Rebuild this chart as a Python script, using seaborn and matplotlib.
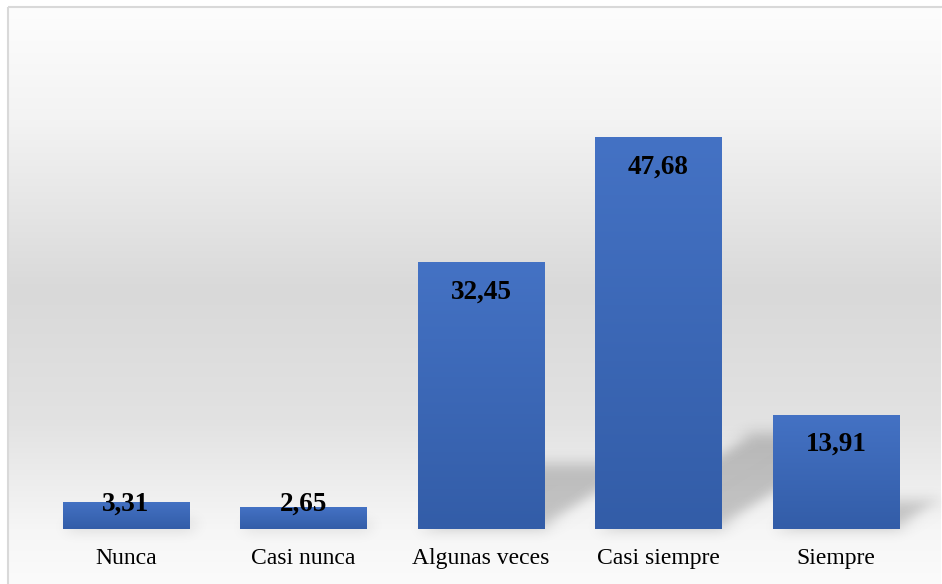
import numpy as np
import pandas as pd
import matplotlib
matplotlib.use("Agg")
import matplotlib.pyplot as plt
from matplotlib.patches import Polygon
import seaborn as sns

# Survey response distribution (%)
categories = ["Nunca", "Casi nunca", "Algunas veces", "Casi siempre", "Siempre"]
values = [3.31, 2.65, 32.45, 47.68, 13.91]
value_labels = ["3,31", "2,65", "32,45", "47,68", "13,91"]

W, H, DPI = 942, 584, 100
sns.set_theme(style="white")
plt.rcParams["font.family"] = ["Liberation Serif", "DejaVu Serif"]

fig = plt.figure(figsize=(W / DPI, H / DPI), dpi=DPI, facecolor="white")

# ---- background panel: vertical grey gradient inside a light frame ----
frame_l, frame_t = 8, 7
bg = fig.add_axes([0, 0, 1, 1], zorder=0)
bg.set_xlim(0, W)
bg.set_ylim(H, 0)
bg.axis("off")
rows = np.arange(frame_t, H)
stops_y = [frame_t, 120, 290, 420, 529, H]
stops_v = [253, 243, 217, 226, 246, 251]
col = np.interp(rows, stops_y, stops_v) / 255.0
grad = np.repeat(col[:, None], 2, axis=1)
bg.imshow(np.dstack([grad, grad, grad]), extent=[frame_l, W - 1, H, frame_t],
          aspect="auto", interpolation="bilinear")
bg.plot([frame_l, W], [frame_t, frame_t], color="#d9d9d9", lw=1.5, solid_capstyle="butt")
bg.plot([frame_l, frame_l], [frame_t, H], color="#d9d9d9", lw=1.5, solid_capstyle="butt")

# ---- main chart axes ----
base_px = 529
step_px = 177.5
first_px = 126
top_px = frame_t
ax = fig.add_axes([frame_l / W, (H - base_px) / H, (W - 1 - frame_l) / W,
                   (base_px - top_px) / H], zorder=1)
ax.patch.set_alpha(0)

df = pd.DataFrame({"cat": categories, "val": values})
sns.barplot(data=df, x="cat", y="val", ax=ax, color="#4472C4",
            saturation=1, width=0.71, linewidth=0, zorder=3)

ax.set_xlim((frame_l - first_px) / step_px, (W - 1 - first_px) / step_px)
ymax = 63.5
ax.set_ylim(0, ymax)
px_per_y = (base_px - top_px) / ymax
px_per_x = step_px

for s in ax.spines.values():
    s.set_visible(False)
ax.set_yticks([])
ax.set_xlabel("")
ax.set_ylabel("")
ax.tick_params(axis="x", length=0, pad=14, labelsize=17, labelcolor="#000000")
for t in ax.get_xticklabels():
    t.set_family(["Liberation Serif", "DejaVu Serif"])


def gaussian_blur(sigma_px):
    r = int(3 * sigma_px)
    k = np.exp(-0.5 * (np.arange(-r, r + 1) / sigma_px) ** 2)
    k /= k.sum()

    def _filter(img, dpi):
        pad = r
        a = np.pad(img, ((pad, pad), (pad, pad), (0, 0)))
        out = np.zeros_like(a)
        for i, kv in enumerate(k):
            out += kv * np.roll(a, i - r, axis=0)
        a = out
        out = np.zeros_like(a)
        for i, kv in enumerate(k):
            out += kv * np.roll(a, i - r, axis=1)
        return out, -pad, -pad

    return _filter


bars = list(ax.patches)

# perspective shadows cast up and to the right of every bar
for bar, v in zip(bars, values):
    x0 = bar.get_x()
    x1 = x0 + bar.get_width()
    sh = 0.245 * v
    shift = 1.6 * sh * px_per_y / px_per_x
    poly = Polygon([(x0, 0), (x1, 0), (x1 + shift, sh), (x0 + shift, sh)],
                   closed=True, facecolor="black", edgecolor="none",
                   alpha=0.2, zorder=2)
    poly.set_agg_filter(gaussian_blur(7))
    ax.add_patch(poly)

# vertical colour gradient on each bar
top_c = np.array([0x44, 0x72, 0xC4]) / 255
bot_c = np.array([0x33, 0x5D, 0xA8]) / 255
tv = np.linspace(0, 1, 64)[:, None]
bar_grad = (top_c * (1 - tv) + bot_c * tv)[:, None, :]
for bar in bars:
    x0, h = bar.get_x(), bar.get_height()
    im = ax.imshow(bar_grad, extent=[x0, x0 + bar.get_width(), 0, h],
                   aspect="auto", interpolation="bilinear", zorder=4)
    im.set_clip_path(bar)

# value labels just inside the top of each bar
for i, (v, lab) in enumerate(zip(values, value_labels)):
    y = max(v - 30 / px_per_y, 25 / px_per_y)
    ax.text(i, y, lab, ha="center", va="center", fontsize=19.5,
            fontweight="bold", color="black", zorder=5,
            family=["Liberation Serif", "DejaVu Serif"])

ax.set_xlim((frame_l - first_px) / step_px, (W - 1 - first_px) / step_px)
ax.set_ylim(0, ymax)

fig.savefig("out.png", dpi=DPI, facecolor="white")
